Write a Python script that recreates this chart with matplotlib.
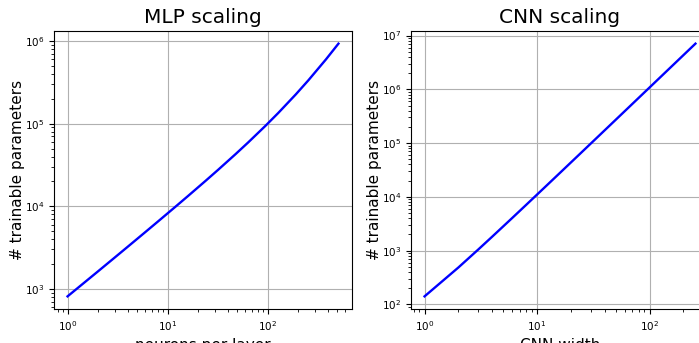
import matplotlib
matplotlib.use("Agg")
import matplotlib.pyplot as plt

# MLP: neurons per layer vs trainable parameters
mlp_neurons = [1, 2, 3, 4, 6, 8, 12, 16, 24, 32, 48, 64, 96, 128, 192, 256, 384, 512]
mlp_params = [809, 1612, 2419, 3230, 4864, 6514, 9862, 13274, 20290, 27562,
              42874, 59210, 94954, 134794, 226762, 335114, 600970, 932362]

# CNN: width vs trainable parameters
cnn_width = [1, 2, 3, 4, 6, 8, 12, 16, 24, 32, 48, 64, 96, 128, 192, 256]
cnn_params = [141, 486, 1047, 1824, 4026, 7092, 15816, 27996, 62724, 111276,
              249852, 443724, 997356, 1772172, 3985356, 7083276]

W, H, DPI = 699, 343, 100
fig = plt.figure(figsize=(W / DPI, H / DPI), dpi=DPI)

ax1 = fig.add_axes([54 / W, 1 - 309 / H, 298 / W, 278 / H])
ax2 = fig.add_axes([411 / W, 1 - 309 / H, 298 / W, 278 / H])

for ax, x, y, title, xlabel in [
    (ax1, mlp_neurons, mlp_params, "MLP scaling", "neurons per layer"),
    (ax2, cnn_width, cnn_params, "CNN scaling", "CNN width"),
]:
    ax.plot(x, y, color="blue", linewidth=1.7)
    ax.set_xscale("log")
    ax.set_yscale("log")
    ax.grid(True, which="major")
    ax.set_title(title, fontsize=14.5)
    ax.set_xlabel(xlabel, fontsize=11)
    ax.set_ylabel("# trainable parameters", fontsize=11, labelpad=0)
    ax.tick_params(labelsize=7.5)

fig.savefig("out.png", dpi=DPI)
